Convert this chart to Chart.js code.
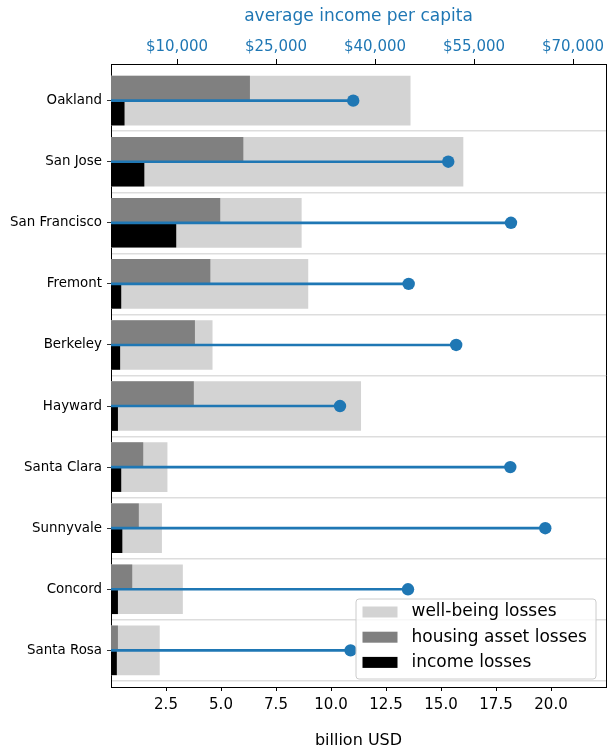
<!DOCTYPE html>
<html>
<head>
<meta charset="utf-8">
<script src="https://cdn.jsdelivr.net/npm/chart.js@4.4.0/dist/chart.umd.min.js"></script>
<style>
html, body { margin: 0; padding: 0; background: #fff; }
</style>
</head>
<body>
<canvas id="grafico" width="616" height="753"></canvas>
<script>
var cities = ['Oakland', 'San Jose', 'San Francisco', 'Fremont', 'Berkeley', 'Hayward', 'Santa Clara', 'Sunnyvale', 'Concord', 'Santa Rosa'];
// billion USD
var wellbeingLosses = [13.6, 16.0, 8.65, 8.95, 4.6, 11.35, 2.55, 2.3, 3.25, 2.2];
var housingLosses = [6.3, 6.0, 4.95, 4.5, 3.8, 3.75, 1.45, 1.25, 0.95, 0.3];
var incomeLosses = [0.6, 1.5, 2.95, 0.45, 0.4, 0.3, 0.45, 0.5, 0.3, 0.25];
// USD per person
var incomePerCapita = [36700, 51100, 60600, 45100, 52300, 34700, 60500, 65800, 45000, 36300];

var lossTicks = [2.5, 5, 7.5, 10, 12.5, 15, 17.5, 20];
var incomeTicks = [10000, 25000, 40000, 55000, 70000];

var blue = '#1f77b4';

Chart.defaults.font.family = 'DejaVu Sans';

function rows(values, shift) {
    var out = [];
    for (var i = 0; i < values.length; i++) {
        out.push({x: values[i], y: i + shift});
    }
    return out;
}

var separators = [];
for (var i = 0; i < cities.length; i++) separators.push(i + 0.5);

// legend box in the lower right corner of the plot
var legendBox = {
    id: 'legendBox',
    afterDraw: function(chart) {
        var ctx = chart.ctx;
        var area = chart.chartArea;
        var items = chart.data.datasets.slice(0, 3);
        var w = 240, h = 80, r = 3;
        var x = area.right - 10 - w;
        var y = area.bottom - 8 - h;
        ctx.save();
        ctx.beginPath();
        ctx.moveTo(x + r, y);
        ctx.lineTo(x + w - r, y);
        ctx.arcTo(x + w, y, x + w, y + r, r);
        ctx.lineTo(x + w, y + h - r);
        ctx.arcTo(x + w, y + h, x + w - r, y + h, r);
        ctx.lineTo(x + r, y + h);
        ctx.arcTo(x, y + h, x, y + h - r, r);
        ctx.lineTo(x, y + r);
        ctx.arcTo(x, y, x + r, y, r);
        ctx.closePath();
        ctx.fillStyle = 'rgba(255,255,255,0.8)';
        ctx.fill();
        ctx.strokeStyle = '#cccccc';
        ctx.lineWidth = 1;
        ctx.stroke();
        ctx.font = '17px "DejaVu Sans"';
        ctx.textBaseline = 'middle';
        for (var j = 0; j < items.length; j++) {
            var cy = y + 13 + j * 25.2;
            ctx.fillStyle = items[j].backgroundColor;
            ctx.fillRect(x + 6.5, cy - 5.5, 35, 11);
            ctx.fillStyle = '#000';
            ctx.fillText(items[j].label, x + 55.5, cy);
        }
        ctx.restore();
    }
};

var ctx = document.getElementById('grafico').getContext('2d');
var chart = new Chart(ctx, {
    type: 'bar',
    data: {
        datasets: [{
            label: 'well-being losses',
            data: rows(wellbeingLosses, 0),
            backgroundColor: '#d3d3d3',
            grouped: false, barThickness: 49,
            xAxisID: 'x', yAxisID: 'y', order: 5
        }, {
            label: 'housing asset losses',
            data: rows(housingLosses, -0.2),
            backgroundColor: '#808080',
            grouped: false, barThickness: 24.5,
            xAxisID: 'x', yAxisID: 'y', order: 4
        }, {
            label: 'income losses',
            data: rows(incomeLosses, 0.2),
            backgroundColor: '#000000',
            grouped: false, barThickness: 24.5,
            xAxisID: 'x', yAxisID: 'y', order: 3
        }, {
            label: 'average income per capita',
            data: rows(incomePerCapita, 0),
            backgroundColor: blue,
            grouped: false, barThickness: 2,
            xAxisID: 'x2', yAxisID: 'y', order: 2
        }, {
            type: 'line',
            label: 'average income per capita',
            data: rows(incomePerCapita, 0),
            showLine: false,
            pointRadius: 6.2, pointHoverRadius: 6.2,
            pointBackgroundColor: blue, pointBorderWidth: 0,
            xAxisID: 'x2', yAxisID: 'y', order: 1
        }]
    },
    options: {
        indexAxis: 'y',
        responsive: false,
        animation: false,
        layout: {padding: {left: 0, right: 10, top: 0, bottom: 0}},
        plugins: {legend: {display: false}, tooltip: {enabled: false}},
        scales: {
            x: {
                type: 'linear', position: 'bottom', min: 0, max: 22.5, offset: false,
                afterBuildTicks: function(s) { s.ticks = lossTicks.map(function(v) { return {value: v}; }); },
                afterFit: function(s) { s.height = 66; },
                grid: {drawOnChartArea: false, offset: false, color: '#000', tickLength: 4},
                border: {color: '#000', width: 1},
                ticks: {color: '#000', font: {size: 15}, padding: 5, autoSkip: false, maxRotation: 0,
                    callback: function(v) { return v.toFixed(1); }},
                title: {display: true, text: 'billion USD', color: '#000', font: {size: 16}, padding: {top: 0, bottom: 3}}
            },
            x2: {
                type: 'linear', position: 'top', min: 0, max: 75000, offset: false,
                afterBuildTicks: function(s) { s.ticks = incomeTicks.map(function(v) { return {value: v}; }); },
                afterFit: function(s) { s.height = 64; },
                grid: {drawOnChartArea: false, offset: false, color: '#000', tickLength: 5},
                border: {color: '#000', width: 1},
                ticks: {color: blue, font: {size: 15}, padding: 3, autoSkip: false, maxRotation: 0,
                    callback: function(v) { return '$' + v.toLocaleString('en-US'); }},
                title: {display: true, text: 'average income per capita', color: blue, font: {size: 17}, padding: {top: 6, bottom: 0}}
            },
            y: {
                type: 'linear', position: 'left', min: -0.6, max: 9.6, reverse: true, offset: false, z: 1,
                afterBuildTicks: function(s) { s.ticks = cities.map(function(c, i) { return {value: i}; }); },
                afterFit: function(s) { s.width = 111; },
                grid: {drawOnChartArea: false, offset: false, color: '#333', tickLength: 4},
                border: {color: '#000', width: 1},
                ticks: {color: '#000', font: {size: 13.4}, padding: 5, autoSkip: false,
                    callback: function(v) { return cities[v]; }}
            },
            ySep: {
                type: 'linear', position: 'right', min: -0.6, max: 9.6, reverse: true, offset: false,
                afterBuildTicks: function(s) { s.ticks = separators.map(function(v) { return {value: v}; }); },
                afterFit: function(s) { s.width = 0; },
                grid: {color: '#dddddd', lineWidth: 1.5, drawTicks: false, offset: false},
                border: {color: '#000', width: 1},
                ticks: {display: false}
            }
        }
    },
    plugins: [legendBox]
});
</script>
</body>
</html>
